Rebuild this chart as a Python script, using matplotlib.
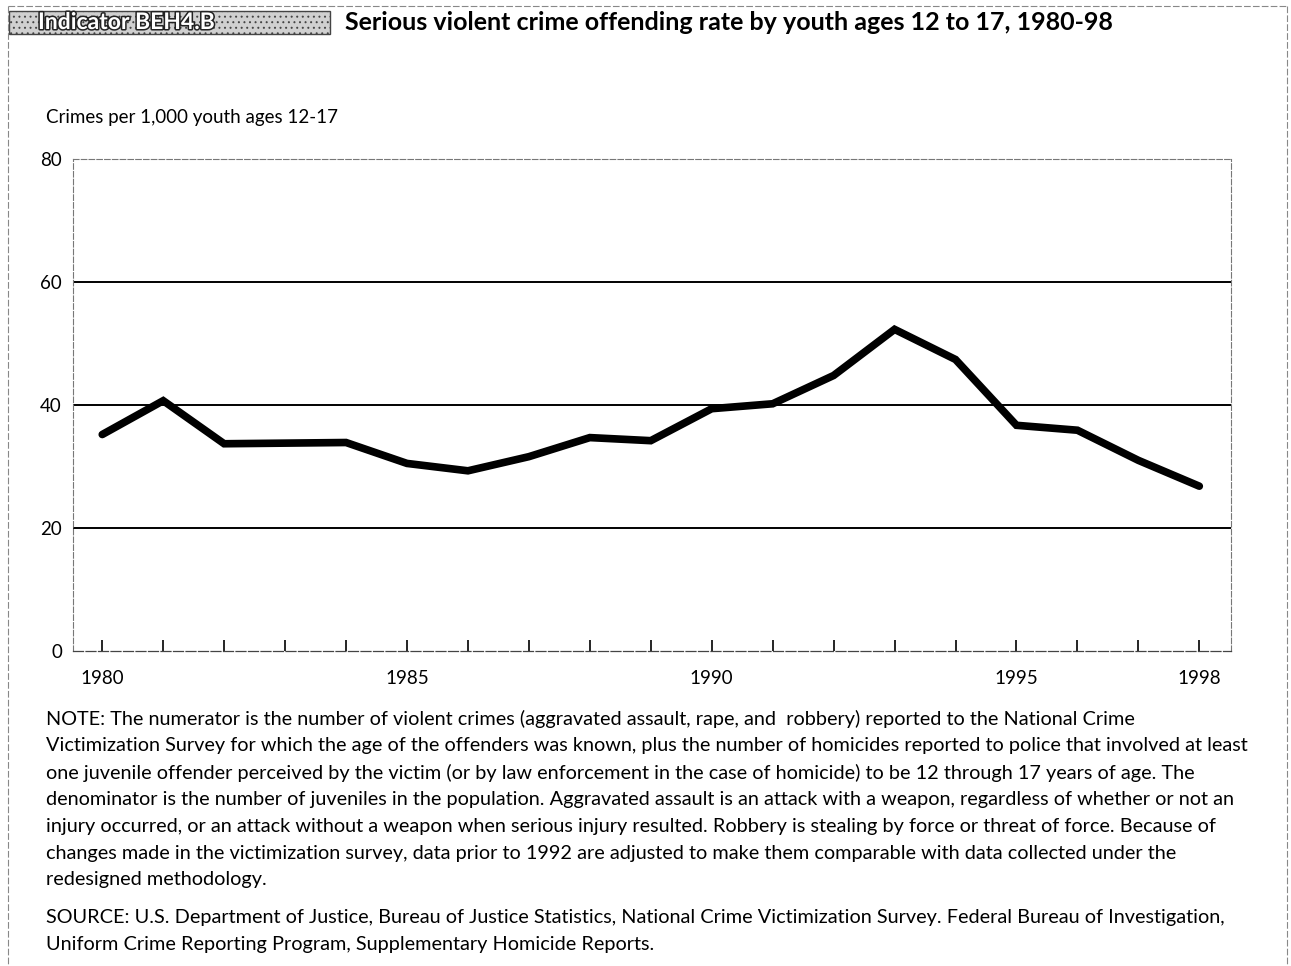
import matplotlib.pyplot as plt
import matplotlib.patheffects as pe
from matplotlib.patches import Rectangle

# Data
years = list(range(1980, 1999))
rate = [35.2, 40.7, 33.7, 33.8, 33.9, 30.5, 29.3, 31.6, 34.7, 34.2,
        39.4, 40.2, 44.8, 52.3, 47.4, 36.7, 35.9, 31.0, 26.8]
tick_years = [1980, 1985, 1990, 1995, 1998]
y_ticks = [0, 20, 40, 60, 80]

title = "Serious violent crime offending rate by youth ages 12 to 17, 1980-98"
indicator = "Indicator BEH4.B"
y_label = "Crimes per 1,000 youth ages 12-17"
note_lines = [
    "NOTE: The numerator is the number of violent crimes (aggravated assault, rape, and  robbery) reported to the National Crime",
    "Victimization Survey for which the age of the offenders was known, plus the number of homicides reported to police that involved at least",
    "one juvenile offender perceived by the victim (or by law enforcement in the case of homicide) to be 12 through 17 years of age. The",
    "denominator is the number of juveniles in the population. Aggravated assault is an attack with a weapon, regardless of whether or not an",
    "injury occurred, or an attack without a weapon when serious injury resulted. Robbery is stealing by force or threat of force. Because of",
    "changes made in the victimization survey, data prior to 1992 are adjusted to make them comparable with data collected under the",
    "redesigned methodology.",
]
source_lines = [
    "SOURCE: U.S. Department of Justice, Bureau of Justice Statistics, National Crime Victimization Survey. Federal Bureau of Investigation,",
    "Uniform Crime Reporting Program, Supplementary Homicide Reports.",
]

plt.rcParams['font.family'] = ['Lato', 'DejaVu Sans']
plt.rcParams['hatch.color'] = '#6a6a6a'
plt.rcParams['hatch.linewidth'] = 0.7

W, H = 1291, 966
fig = plt.figure(figsize=(W / 100, H / 100), dpi=100)

# page overlay in pixel coordinates
page = fig.add_axes([0, 0, 1, 1])
page.set_xlim(0, W)
page.set_ylim(H, 0)
page.axis('off')
page.plot([8, 1287], [6, 6], color='#888888', lw=0.8, ls=(0, (6, 2)))
page.plot([8, 8], [6, 966], color='#888888', lw=0.8, ls=(0, (6, 2)))
page.plot([1287, 1287], [6, 966], color='#888888', lw=0.8, ls=(0, (6, 2)))

# indicator box (speckled gray) and title
page.add_patch(Rectangle((9, 11), 321, 23, facecolor='#d0d0d0', hatch='...',
                         edgecolor='#444444', lw=1.0))
page.text(38, 22.5, indicator, fontsize=16.5, color='white', va='center',
          fontweight='bold',
          path_effects=[pe.withStroke(linewidth=2.2, foreground='#222222')])
page.text(345, 22, title, fontsize=18, fontweight='bold', va='center')

page.text(46, 118, y_label, fontsize=13.5, va='center')

# chart
ax = fig.add_axes([73 / W, 1 - 651 / H, (1231 - 73) / W, (651 - 159) / H])
ax.plot(years, rate, color='black', lw=5.5, solid_joinstyle='miter',
        solid_capstyle='round', zorder=3)
ax.set_xlim(1979.52, 1998.52)
ax.set_ylim(0, 80)
ax.set_yticks(y_ticks)
ax.set_xticks(years, minor=True)
ax.set_xticks(tick_years)
ax.set_xticklabels([str(y) for y in tick_years])
for v in y_ticks[1:-1]:
    ax.axhline(v, color='black', lw=1.4, zorder=2)
for s in ['left', 'top', 'right']:
    ax.spines[s].set_color('#777777')
    ax.spines[s].set_linewidth(0.8)
    ax.spines[s].set_linestyle((0, (5, 2)))
ax.spines['bottom'].set_color('#444444')
ax.spines['bottom'].set_linewidth(0.9)
ax.spines['bottom'].set_linestyle((0, (8, 2)))
ax.tick_params(axis='y', length=0, labelsize=13.5, pad=8)
ax.tick_params(axis='x', which='both', direction='in', length=8,
               width=1.2, labelsize=13.5, pad=14)

# notes and source
for i, line in enumerate(note_lines):
    page.text(46, 719 + 26.8 * i, line, fontsize=14.3, va='center')
for i, line in enumerate(source_lines):
    page.text(46, 918 + 26.5 * i, line, fontsize=14.3, va='center')

plt.savefig('out.png', dpi=100)
